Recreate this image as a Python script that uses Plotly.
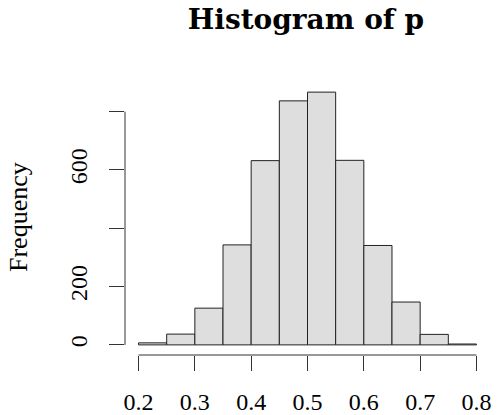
import plotly.graph_objects as go

# Data
bin_edges = [0.2, 0.25, 0.3, 0.35, 0.4, 0.45, 0.5, 0.55, 0.6, 0.65, 0.7, 0.75, 0.8]
counts = [7, 37, 126, 343, 632, 837, 867, 633, 341, 147, 36, 3]
x_ticks = [0.2, 0.3, 0.4, 0.5, 0.6, 0.7, 0.8]
x_tick_labels = ["0.2", "0.3", "0.4", "0.5", "0.6", "0.7", "0.8"]
y_ticks = [0, 200, 400, 600, 800]
y_tick_labels = ["0", "200", "", "600", ""]

centers = [(a + b) / 2 for a, b in zip(bin_edges[:-1], bin_edges[1:])]
widths = [b - a for a, b in zip(bin_edges[:-1], bin_edges[1:])]

FONT = "Liberation Serif"
TITLE_FONT = "DejaVu Serif"

fig = go.Figure(go.Bar(
    x=centers, y=counts, width=widths,
    marker=dict(color="#DEDEDE", line=dict(color="#222222", width=1)),
    hoverinfo="skip",
))

xspan = bin_edges[-1] - bin_edges[0]
ymax = max(counts)

fig.update_layout(
    width=499, height=415,
    margin=dict(l=125, r=9, t=82, b=60, pad=0, autoexpand=False),
    paper_bgcolor="white", plot_bgcolor="white",
    showlegend=False,
    font=dict(family=FONT, color="black", size=24),
    title=dict(text="<b>Histogram of p</b>", x=306 / 499, xanchor="center",
               y=1 - 19 / 415, yanchor="middle", yref="container",
               font=dict(family=TITLE_FONT, size=28, color="black")),
    xaxis=dict(range=[bin_edges[0] - 0.04 * xspan, bin_edges[-1] + 0.04 * xspan],
               tickvals=x_ticks, ticktext=x_tick_labels, automargin=False,
               ticks="outside", ticklen=15, tickwidth=1, tickcolor="#333",
               showgrid=False, zeroline=False, showline=False,
               tickfont=dict(family=FONT, size=24), ticklabelstandoff=10),
    yaxis=dict(range=[-0.04 * ymax, 1.04 * ymax],
               tickvals=y_ticks, ticktext=y_tick_labels, tickangle=-90, automargin=False,
               ticks="outside", ticklen=15, tickwidth=1, tickcolor="#333",
               showgrid=False, zeroline=False, showline=False,
               tickfont=dict(family=FONT, size=24), ticklabelstandoff=12),
    shapes=[
        dict(type="line", xref="x", yref="paper", x0=x_ticks[0], x1=x_ticks[-1], y0=0, y1=0,
             line=dict(color="#333", width=1)),
        dict(type="line", xref="paper", yref="y", x0=0, x1=0, y0=y_ticks[0], y1=y_ticks[-1],
             line=dict(color="#333", width=1)),
    ],
    annotations=[dict(text="Frequency", xref="paper", yref="paper",
                      x=(18 - 125) / 365, y=(355 - 217) / 273, textangle=-90,
                      showarrow=False, xanchor="center", yanchor="middle",
                      font=dict(family=FONT, size=26, color="black"))],
)

fig.write_html("out.html")
